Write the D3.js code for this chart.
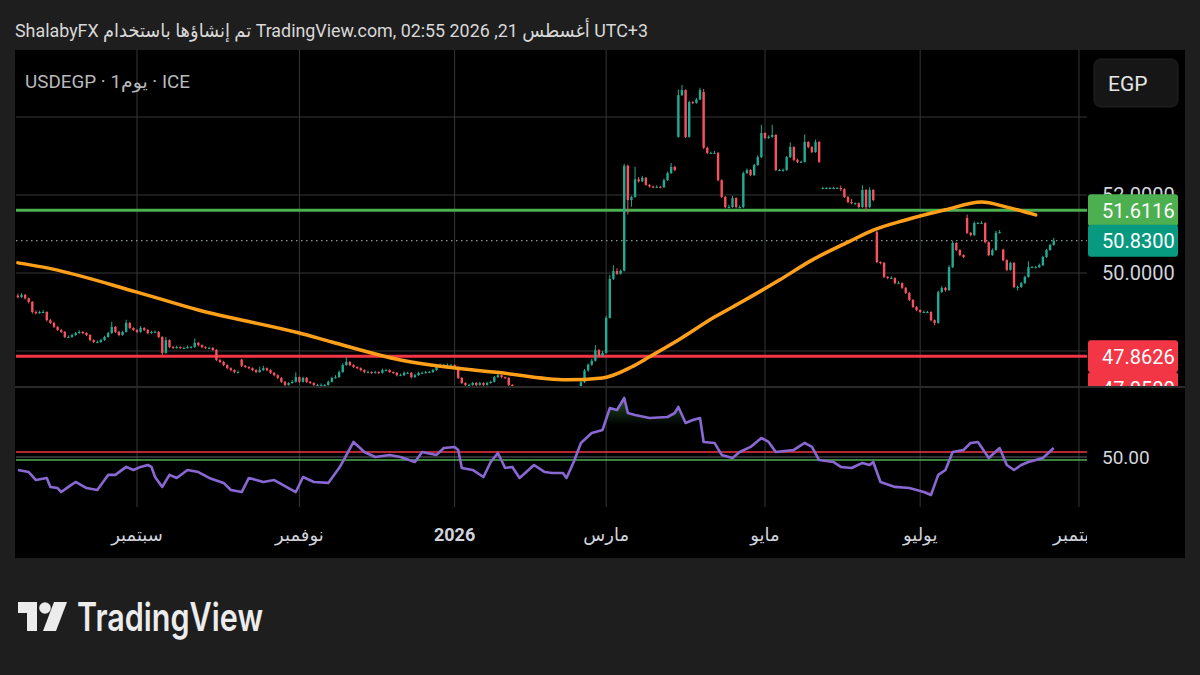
<!DOCTYPE html>
<html>
<head>
<meta charset="utf-8">
<script src="https://cdn.jsdelivr.net/npm/d3@7"></script>
<style>
  html, body { margin: 0; padding: 0; background: #1e1e1e; }
  svg { display: block; font-family: Roboto, "Noto Sans", "DejaVu Sans", sans-serif; }
</style>
</head>
<body>
<div id="chart"></div>
<script>
// daily bars, weekdays only, first bar 2025-07-16
var startDate = "2025-07-16";

// [open, high, low, close]
var bars = [
  [49.42,49.47,49.35,49.38],[49.38,49.48,49.36,49.44],[49.44,49.46,49.32,49.35],[49.35,49.37,49.22,49.26],
  [49.26,49.28,48.96,49.00],[49.00,49.04,48.94,48.97],[48.97,49.03,48.95,49.00],[49.00,49.05,48.97,49.00],
  [49.00,49.02,48.76,48.79],[48.79,48.82,48.69,48.72],[48.72,48.75,48.59,48.62],[48.62,48.64,48.51,48.54],
  [48.54,48.57,48.46,48.49],[48.49,48.51,48.33,48.36],[48.36,48.40,48.33,48.36],[48.36,48.44,48.34,48.41],
  [48.41,48.49,48.39,48.46],[48.46,48.53,48.44,48.49],[48.49,48.51,48.43,48.46],[48.46,48.48,48.38,48.41],
  [48.41,48.43,48.25,48.28],[48.28,48.30,48.20,48.23],[48.23,48.27,48.20,48.23],[48.23,48.31,48.21,48.28],
  [48.28,48.39,48.26,48.36],[48.36,48.49,48.34,48.46],[48.46,48.75,48.44,48.62],[48.62,48.64,48.46,48.49],
  [48.49,48.52,48.38,48.41],[48.41,48.52,48.39,48.49],[48.49,48.80,48.47,48.72],[48.72,48.74,48.56,48.59],
  [48.59,48.61,48.51,48.54],[48.54,48.56,48.46,48.49],[48.49,48.64,48.47,48.59],[48.59,48.61,48.51,48.54],
  [48.54,48.56,48.43,48.46],[48.46,48.52,48.44,48.49],[48.49,48.53,48.46,48.49],[48.49,48.51,48.33,48.36],
  [48.36,48.38,47.90,47.95],[47.95,48.36,47.93,48.28],[48.28,48.30,48.07,48.10],[48.10,48.13,48.05,48.08],
  [48.08,48.14,48.06,48.10],[48.10,48.12,48.05,48.08],[48.08,48.11,48.05,48.08],[48.08,48.14,48.06,48.10],
  [48.10,48.13,48.07,48.10],[48.10,48.32,48.08,48.21],[48.21,48.23,48.12,48.15],[48.15,48.17,48.07,48.10],
  [48.10,48.12,48.05,48.08],[48.08,48.11,48.05,48.08],[48.08,48.10,48.00,48.03],[48.03,48.05,47.74,47.77],
  [47.77,47.80,47.69,47.72],[47.72,47.75,47.61,47.64],[47.64,47.66,47.53,47.56],[47.56,47.58,47.48,47.51],
  [47.51,47.53,47.43,47.46],[47.46,47.50,47.43,47.46],[47.78,47.80,47.59,47.62],[47.62,47.64,47.56,47.59],
  [47.59,47.61,47.53,47.56],[47.56,47.58,47.48,47.51],[47.51,47.53,47.43,47.46],[47.46,47.60,47.44,47.51],
  [47.51,47.62,47.49,47.56],[47.56,47.58,47.48,47.51],[47.51,47.53,47.41,47.44],[47.44,47.46,47.35,47.38],
  [47.38,47.40,47.28,47.31],[47.31,47.33,47.18,47.21],[47.21,47.23,47.10,47.13],[47.13,47.20,47.11,47.18],
  [47.18,47.26,47.16,47.21],[47.21,47.45,47.19,47.33],[47.33,47.35,47.18,47.21],[47.21,47.34,47.19,47.31],
  [47.31,47.33,47.18,47.21],[47.21,47.23,47.15,47.18],[47.18,47.20,47.10,47.13],[47.13,47.16,47.10,47.13],
  [47.13,47.17,47.09,47.13],[47.13,47.15,47.10,47.13],[47.13,47.24,47.11,47.21],[47.21,47.34,47.19,47.31],
  [47.31,47.38,47.29,47.33],[47.33,47.50,47.31,47.46],[47.46,47.68,47.44,47.64],[47.64,47.85,47.62,47.72],
  [47.72,47.74,47.61,47.64],[47.64,47.66,47.56,47.59],[47.59,47.61,47.53,47.56],[47.56,47.58,47.48,47.51],
  [47.51,47.53,47.43,47.46],[47.46,47.50,47.43,47.46],[47.46,47.48,47.41,47.44],[47.44,47.49,47.42,47.46],
  [47.46,47.48,47.41,47.44],[47.44,47.55,47.42,47.51],[47.51,47.54,47.48,47.51],[47.51,47.53,47.44,47.46],
  [47.46,47.48,47.41,47.44],[47.44,47.46,47.35,47.38],[47.38,47.42,47.36,47.38],[47.38,47.48,47.36,47.44],
  [47.44,47.47,47.41,47.44],[47.44,47.46,47.30,47.33],[47.33,47.41,47.31,47.38],[47.38,47.47,47.36,47.44],
  [47.44,47.47,47.42,47.44],[47.44,47.49,47.42,47.46],[47.46,47.49,47.44,47.46],[47.46,47.54,47.44,47.51],
  [47.51,47.62,47.49,47.59],[47.59,47.68,47.57,47.64],[47.64,47.67,47.61,47.64],[47.64,47.68,47.60,47.64],
  [47.64,47.67,47.61,47.64],[47.64,47.66,47.56,47.59],[47.59,47.61,47.28,47.31],[47.31,47.33,47.15,47.18],
  [47.18,47.20,47.10,47.13],[47.13,47.16,47.10,47.13],[47.13,47.21,47.11,47.18],[47.18,47.20,47.10,47.13],
  [47.13,47.21,47.11,47.18],[47.18,47.20,47.10,47.13],[47.13,47.21,47.11,47.18],[47.18,47.24,47.16,47.21],
  [47.21,47.36,47.19,47.33],[47.33,47.46,47.31,47.38],[47.38,47.40,47.30,47.33],[47.33,47.35,47.28,47.31],
  [47.31,47.33,47.10,47.13],[47.13,47.15,46.95,46.98],[46.98,47.00,46.89,46.92],[46.92,46.94,46.82,46.85],
  [46.85,46.87,46.77,46.80],[46.80,46.91,46.78,46.88],[46.88,46.98,46.86,46.95],[46.95,46.97,46.87,46.90],
  [46.90,46.92,46.83,46.86],[46.86,46.88,46.79,46.82],[46.82,46.87,46.80,46.84],[46.84,46.86,46.77,46.80],
  [46.80,46.86,46.78,46.83],[46.83,46.88,46.81,46.85],[46.85,46.87,46.79,46.82],[46.82,46.84,46.75,46.78],
  [46.78,46.80,46.72,46.75],[46.75,46.84,46.73,46.80],[46.80,46.93,46.78,46.90],[46.90,47.03,46.88,47.00],
  [47.00,47.24,46.98,47.20],[47.20,47.54,47.18,47.50],[47.50,47.68,47.47,47.65],[47.65,47.80,47.62,47.75],
  [47.75,48.15,47.73,48.02],[48.02,48.05,47.85,47.88],[47.88,48.00,47.85,47.95],[47.95,48.90,47.93,48.85],
  [48.85,49.95,48.83,49.85],[49.85,50.20,49.82,50.05],[50.05,50.12,49.95,49.98],[49.98,50.09,49.96,50.06],
  [50.06,52.80,50.04,52.75],[52.75,52.78,51.50,51.87],[51.87,51.98,51.70,51.95],[51.95,52.72,51.93,52.40],
  [52.40,52.46,52.32,52.35],[52.35,52.49,52.33,52.44],[52.44,52.46,52.24,52.26],[52.26,52.28,52.19,52.22],
  [52.22,52.24,52.17,52.20],[52.20,52.25,52.18,52.21],[52.21,52.23,52.17,52.20],[52.20,52.42,52.18,52.38],
  [52.38,52.60,52.36,52.56],[52.56,52.82,52.54,52.72],[52.72,52.75,52.61,52.64],[53.49,54.70,53.47,54.56],
  [54.56,54.82,54.54,54.69],[54.69,54.71,53.46,53.49],[53.49,54.42,53.47,54.38],[54.38,54.41,54.33,54.36],
  [54.36,54.49,54.34,54.45],[54.45,54.75,54.43,54.69],[54.64,54.72,53.18,53.21],[53.21,53.24,53.05,53.08],
  [53.08,53.11,53.05,53.08],[53.08,53.13,53.06,53.08],[53.08,53.10,52.35,52.38],[52.38,52.40,51.92,51.95],
  [51.95,51.97,51.66,51.69],[51.69,51.75,51.66,51.69],[51.69,51.98,51.67,51.92],[51.92,51.94,51.66,51.69],
  [51.69,51.73,51.66,51.69],[51.69,52.60,51.67,52.56],[52.56,52.68,52.54,52.64],[52.64,52.66,52.48,52.51],
  [52.51,52.80,52.49,52.77],[52.77,53.02,52.75,52.97],[52.97,53.80,52.95,53.59],[53.59,53.61,53.43,53.46],
  [53.46,53.53,53.44,53.49],[53.49,53.80,53.47,53.54],[53.54,53.56,52.61,52.64],[52.64,52.67,52.61,52.64],
  [52.64,52.68,52.60,52.64],[52.64,53.00,52.62,52.97],[52.97,53.35,52.95,53.23],[53.23,53.25,52.87,52.90],
  [52.90,52.93,52.82,52.85],[52.85,52.88,52.83,52.85],[52.85,53.55,52.83,53.36],[53.36,53.38,53.20,53.23],
  [53.23,53.25,53.07,53.10],[53.10,53.42,53.08,53.36],[53.36,53.38,52.82,52.85],[52.18,52.21,52.15,52.18],
  [52.18,52.20,52.16,52.18],[52.18,52.20,52.16,52.18],[52.18,52.21,52.15,52.18],[52.18,52.20,52.16,52.18],
  [52.18,52.24,52.10,52.15],[52.15,52.17,51.92,51.95],[51.95,51.97,51.79,51.82],[51.82,51.90,51.76,51.79],
  [51.79,51.81,51.75,51.79],[51.79,51.81,51.66,51.69],[51.69,52.25,51.67,52.13],[52.13,52.15,51.60,51.69],
  [51.69,52.20,51.67,52.13],[52.13,52.15,51.84,51.87],[51.05,51.08,50.25,50.28],[50.28,50.30,50.22,50.26],
  [50.26,50.28,49.87,49.90],[49.90,49.92,49.84,49.87],[49.87,49.92,49.85,49.87],[49.87,49.89,49.71,49.74],
  [49.74,49.79,49.72,49.74],[49.74,49.76,49.59,49.62],[49.62,49.64,49.46,49.49],[49.49,49.51,49.28,49.31],
  [49.31,49.33,49.10,49.13],[49.13,49.15,49.02,49.05],[49.05,49.07,48.97,49.00],[49.00,49.04,48.98,49.00],
  [49.00,49.03,48.97,49.00],[49.00,49.02,48.76,48.79],[48.79,48.81,48.66,48.72],[48.72,49.55,48.70,49.51],
  [49.51,49.66,49.49,49.62],[49.62,49.64,49.52,49.56],[49.56,50.20,49.54,50.15],[50.15,50.82,50.13,50.77],
  [50.77,50.79,50.56,50.59],[50.59,50.61,50.43,50.46],[50.46,50.48,50.38,50.41],[51.41,51.50,51.00,51.03],
  [51.03,51.05,50.94,50.97],[50.97,51.32,50.95,51.28],[51.28,51.31,51.26,51.28],[51.28,51.33,51.26,51.28],
  [51.28,51.30,50.76,50.79],[50.79,50.81,50.43,50.46],[50.46,50.63,50.44,50.59],[50.59,51.08,50.57,51.03],
  [51.03,51.10,51.01,51.05],[50.60,50.62,50.30,50.33],[50.33,50.35,50.05,50.08],[50.08,50.29,50.06,50.26],
  [50.26,50.28,49.61,49.64],[49.64,49.68,49.55,49.64],[49.64,49.77,49.62,49.74],[49.74,49.93,49.72,49.90],
  [49.90,50.30,49.88,50.15],[50.15,50.18,50.13,50.15],[50.15,50.18,50.12,50.15],[50.15,50.24,50.13,50.20],
  [50.20,50.44,50.18,50.41],[50.41,50.62,50.39,50.59],[50.59,50.75,50.57,50.72],[50.72,50.90,50.70,50.83]
];

// moving average (orange), read at these bars
var maBar = [0, 7, 33, 50, 78, 87, 106, 134, 152, 162, 170, 175, 183, 193, 200, 211, 220, 230, 237, 246, 257, 267, 274, 282];
var maVal = [50.26, 50.15, 49.51, 49.05, 48.46, 48.23, 47.77, 47.44, 47.26, 47.31, 47.59, 47.85, 48.28, 48.87, 49.23, 49.82, 50.33, 50.79, 51.10, 51.36, 51.62, 51.82, 51.69, 51.49];

// RSI, read at these bars
var rsiBar = [0,3,5,8,9,11,12,14,16,19, 22,25,27,30,32,34,36,37,38,40, 42,44,47,50,53,57,59,62,64,68,
  71,75,77,79,82,86,89,90,93,96, 99,103,106,110,112,116,118,121,122,123, 126,129,131,133,135,137,139,143,146,148,
  151,152,154,156,159,162,164,166,168,169, 171,175,180,182,183,185,187,189,190,193, 195,198,200,203,206,208,210,215,218,220,
  222,226,228,231,234,236,237,239,243,247, 251,253,255,257,259,262,264,266,269,272, 274,276,278,280,284,287];
var rsiVal = [41.9,40.6,35.6,36.9,31.3,30.6,28.1,31.3,34.4,30.6, 29.4,38.8,38.8,43.8,41.9,43.8,45.0,43.8,37.5,31.3,
  38.8,36.9,41.9,40.6,36.9,33.8,29.4,28.1,36.9,34.4, 35.6,30.6,28.1,37.5,34.4,33.8,43.1,46.9,59.4,53.1,
  50.0,51.3,50.0,46.9,53.1,51.3,55.6,56.3,54.4,43.1, 41.9,37.5,46.9,52.5,43.1,43.8,36.9,45.0,40.6,40.0,
  40.0,36.9,46.9,58.8,65.0,66.9,80.6,79.4,86.9,77.5, 76.3,74.4,75.0,77.5,81.3,71.3,73.1,74.4,59.4,58.8,
  51.3,49.4,53.1,56.3,61.9,59.4,53.1,54.4,58.8,56.3, 48.1,46.9,43.8,43.1,46.3,45.0,46.9,34.4,31.3,30.6,
  28.1,26.3,38.8,41.9,53.1,54.4,58.8,59.4,49.4,55.6, 45.0,41.9,45.0,46.9,49.4,55.6];

var priceTicks = [52, 50];
var supportLine = 47.8626;
var resistLine = 51.6116;
var lastPrice = 50.83;
var hiddenLabel = 47.05;
var rsiLevels = [53.1, 50, 48.1];
var rsiLevelColors = ["#f23645", "#5d606b", "#4caf50"];

var monthDates = ["2025-09-01", "2025-11-03", "2026-01-01", "2026-03-02", "2026-05-01", "2026-07-01", "2026-09-01"];
var monthLabels = ["سبتمبر", "نوفمبر", "2026", "مارس", "مايو", "يوليو", "سبتمبر"];

var headerText = "ShalabyFX تم إنشاؤها باستخدام TradingView.com, 02:55 2026 ,21 أغسطس UTC+3";
var symbolText = "USDEGP · 1يوم · ICE";

function draw_chart() {
  var width = 1200, height = 675;
  var plotL = 16, plotR = 1087,
      mainTop = 50, mainBot = 386,
      rsiTop = 388, rsiBot = 507,
      axisBot = 558;
  var upColor = "#22ab94", downColor = "#f7525f", textColor = "#d1d4dc";

  var parseDay = d3.timeParse("%Y-%m-%d"),
      fmtDay = d3.timeFormat("%Y-%m-%d");
  var days = d3.timeDay.range(parseDay(startDate), parseDay("2026-09-30"))
    .filter(function(d) { return d.getDay() != 0 && d.getDay() != 6; })
    .map(fmtDay);

  var svg = d3.select("#chart").append("svg")
    .attr("width", width).attr("height", height);

  svg.append("rect").attr("width", width).attr("height", height).attr("fill", "#1e1e1e");
  svg.append("rect").attr("x", 15).attr("y", mainTop).attr("width", 1170).attr("height", axisBot - mainTop).attr("fill", "#000");

  var defs = svg.append("defs");
  defs.append("clipPath").attr("id", "clipMain").append("rect")
    .attr("x", plotL).attr("y", mainTop).attr("width", plotR - plotL).attr("height", mainBot - mainTop);
  defs.append("clipPath").attr("id", "clipRsi").append("rect")
    .attr("x", plotL).attr("y", rsiTop).attr("width", plotR - plotL).attr("height", rsiBot - rsiTop);
  defs.append("clipPath").attr("id", "clipAxis").append("rect")
    .attr("x", plotL).attr("y", rsiBot).attr("width", plotR - plotL).attr("height", axisBot - rsiBot);
  defs.append("clipPath").attr("id", "clipScale").append("rect")
    .attr("x", plotR).attr("y", mainTop).attr("width", 1185 - plotR).attr("height", mainBot - mainTop);

  var x = d3.scaleLinear().domain([0, 296]).range([17.9, 1086.2]);
  var y = d3.scaleLinear().domain([48, 54]).range([351, 117]);
  var yR = d3.scaleLinear().domain([30, 70]).range([489, 425]);

  // vertical grid (month starts)
  var tickIdx = monthDates.map(function(d) { return days.indexOf(d); });
  svg.append("g").selectAll("line").data(tickIdx).enter().append("line")
    .attr("x1", function(d) { return x(d); }).attr("x2", function(d) { return x(d); })
    .attr("y1", mainTop).attr("y2", rsiBot)
    .attr("stroke", "#363636").attr("stroke-width", 1);

  // horizontal grid
  svg.append("g").selectAll("line").data(d3.range(48, 56, 2)).enter().append("line")
    .attr("x1", plotL).attr("x2", plotR)
    .attr("y1", function(d) { return y(d); }).attr("y2", function(d) { return y(d); })
    .attr("stroke", "#363636").attr("stroke-width", 1);

  // pane separator
  svg.append("line").attr("x1", 15).attr("x2", 1185).attr("y1", 387).attr("y2", 387)
    .attr("stroke", "#2a2a2a").attr("stroke-width", 2);

  var main = svg.append("g").attr("clip-path", "url(#clipMain)");

  // horizontal levels
  main.append("line").attr("x1", plotL).attr("x2", plotR)
    .attr("y1", y(resistLine)).attr("y2", y(resistLine))
    .attr("stroke", "#4caf50").attr("stroke-width", 3);
  main.append("line").attr("x1", plotL).attr("x2", plotR)
    .attr("y1", y(supportLine)).attr("y2", y(supportLine))
    .attr("stroke", "#f23645").attr("stroke-width", 3);
  main.append("line").attr("x1", plotL).attr("x2", plotR)
    .attr("y1", y(lastPrice)).attr("y2", y(lastPrice))
    .attr("stroke", "#8a9a98").attr("stroke-width", 1.2).attr("stroke-dasharray", "1.5,3.5");

  // candles
  var bw = 2.4;
  var candle = main.append("g").selectAll("g").data(bars).enter().append("g")
    .attr("fill", function(d) { return d[3] >= d[0] ? upColor : downColor; })
    .attr("stroke", function(d) { return d[3] >= d[0] ? upColor : downColor; });
  candle.append("line")
    .attr("x1", function(d, i) { return x(i); }).attr("x2", function(d, i) { return x(i); })
    .attr("y1", function(d) { return y(d[1]); }).attr("y2", function(d) { return y(d[2]); })
    .attr("stroke-width", 1);
  candle.append("rect")
    .attr("x", function(d, i) { return x(i) - bw / 2; })
    .attr("width", bw)
    .attr("y", function(d) { return y(Math.max(d[0], d[3])); })
    .attr("height", function(d) { return Math.max(1, Math.abs(y(d[0]) - y(d[3]))); })
    .attr("stroke", "none");

  // moving average
  var maData = maBar.map(function(b, i) { return [b, maVal[i]]; });
  main.append("path")
    .attr("d", d3.line().curve(d3.curveMonotoneX)
      .x(function(d) { return x(d[0]); }).y(function(d) { return y(d[1]); })(maData))
    .attr("fill", "none").attr("stroke", "#ff9f1a").attr("stroke-width", 3.5)
    .attr("stroke-linecap", "round");

  // RSI pane
  var rsiData = rsiBar.map(function(b, i) { return [b, rsiVal[i]]; });
  var rsi = svg.append("g").attr("clip-path", "url(#clipRsi)");

  var gUp = defs.append("linearGradient").attr("id", "gUp").attr("gradientUnits", "userSpaceOnUse")
    .attr("x1", 0).attr("x2", 0).attr("y1", yR(90)).attr("y2", yR(70));
  gUp.append("stop").attr("offset", 0).attr("stop-color", "#4caf50").attr("stop-opacity", 0.55);
  gUp.append("stop").attr("offset", 1).attr("stop-color", "#4caf50").attr("stop-opacity", 0);
  var gDn = defs.append("linearGradient").attr("id", "gDn").attr("gradientUnits", "userSpaceOnUse")
    .attr("x1", 0).attr("x2", 0).attr("y1", yR(30)).attr("y2", yR(24));
  gDn.append("stop").attr("offset", 0).attr("stop-color", "#f23645").attr("stop-opacity", 0);
  gDn.append("stop").attr("offset", 1).attr("stop-color", "#f23645").attr("stop-opacity", 0.5);

  defs.append("clipPath").attr("id", "clipOB").append("rect")
    .attr("x", plotL).attr("y", rsiTop).attr("width", plotR - plotL).attr("height", yR(70) - rsiTop);
  defs.append("clipPath").attr("id", "clipOS").append("rect")
    .attr("x", plotL).attr("y", yR(30)).attr("width", plotR - plotL).attr("height", rsiBot - yR(30));

  rsi.append("g").attr("clip-path", "url(#clipOB)").append("path")
    .attr("d", d3.area().x(function(d) { return x(d[0]); })
      .y0(yR(70)).y1(function(d) { return yR(d[1]); })(rsiData))
    .attr("fill", "url(#gUp)");
  rsi.append("g").attr("clip-path", "url(#clipOS)").append("path")
    .attr("d", d3.area().x(function(d) { return x(d[0]); })
      .y0(yR(30)).y1(function(d) { return yR(d[1]); })(rsiData))
    .attr("fill", "url(#gDn)");

  rsi.selectAll("line.lvl").data(rsiLevels).enter().append("line")
    .attr("x1", plotL).attr("x2", plotR)
    .attr("y1", function(d) { return yR(d); }).attr("y2", function(d) { return yR(d); })
    .attr("stroke", function(d, i) { return rsiLevelColors[i]; })
    .attr("stroke-width", function(d, i) { return i == 1 ? 1 : 1.6; });

  rsi.append("path")
    .attr("d", d3.line().x(function(d) { return x(d[0]); }).y(function(d) { return yR(d[1]); })(rsiData))
    .attr("fill", "none").attr("stroke", "#8a68d4").attr("stroke-width", 2.6)
    .attr("stroke-linejoin", "round");

  // time axis
  svg.append("g").attr("clip-path", "url(#clipAxis)")
    .selectAll("text").data(monthLabels).enter().append("text")
    .attr("x", function(d, i) { return x(tickIdx[i]); })
    .attr("y", 541)
    .attr("text-anchor", "middle")
    .attr("font-size", 18)
    .attr("font-weight", function(d) { return d == "2026" ? "bold" : "normal"; })
    .attr("fill", textColor)
    .text(function(d) { return d; });

  // price scale
  var scale = svg.append("g").attr("clip-path", "url(#clipScale)");
  scale.selectAll("text.tick").data(priceTicks).enter().append("text")
    .attr("x", 1102).attr("y", function(d) { return y(d) + 7; })
    .attr("font-size", 20).attr("fill", textColor)
    .text(function(d) { return d.toFixed(4); });

  function price_label(value, color) {
    scale.append("rect").attr("x", 1088).attr("y", y(value) - 16)
      .attr("width", 90).attr("height", 32).attr("rx", 3).attr("fill", color);
    scale.append("text").attr("x", 1102).attr("y", y(value) + 7.5)
      .attr("font-size", 20).attr("fill", "#fff")
      .text(value.toFixed(4));
  }
  price_label(resistLine, "#4caf50");
  price_label(lastPrice, "#089981");
  price_label(hiddenLabel, "#f23645");
  price_label(supportLine, "#f23645");

  svg.append("text").attr("x", 1102).attr("y", yR(50) + 7)
    .attr("font-size", 19).attr("fill", textColor).text(rsiLevels[1].toFixed(2));

  // currency button
  svg.append("rect").attr("x", 1094).attr("y", 59).attr("width", 84).attr("height", 48)
    .attr("rx", 7).attr("fill", "#161616").attr("stroke", "#222");
  svg.append("text").attr("x", 1108).attr("y", 91).attr("font-size", 21)
    .attr("fill", "#e6e6e6").text("EGP");

  // titles
  svg.append("text").attr("x", 15).attr("y", 37).attr("font-size", 19)
    .attr("fill", "#d8d8d8").attr("textLength", 633).attr("lengthAdjust", "spacingAndGlyphs")
    .text(headerText);
  svg.append("text").attr("x", 25).attr("y", 88).attr("font-size", 18)
    .attr("fill", "#b8b9bd").attr("textLength", 165).attr("lengthAdjust", "spacingAndGlyphs")
    .text(symbolText);

  // TradingView logo
  var logo = svg.append("g").attr("fill", "#ececec");
  logo.append("path").attr("d", "M18,602H37V631H27V613H18Z");
  logo.append("circle").attr("cx", 45).attr("cy", 608).attr("r", 5.8);
  logo.append("path").attr("d", "M54,602H67L56,631H43Z");
  logo.append("text").attr("x", 77).attr("y", 631).attr("font-size", 39)
    .attr("font-family", "Inter, Roboto, sans-serif").attr("font-weight", 600)
    .attr("textLength", 186).attr("lengthAdjust", "spacingAndGlyphs")
    .text("TradingView");
}

draw_chart();
</script>
</body>
</html>
